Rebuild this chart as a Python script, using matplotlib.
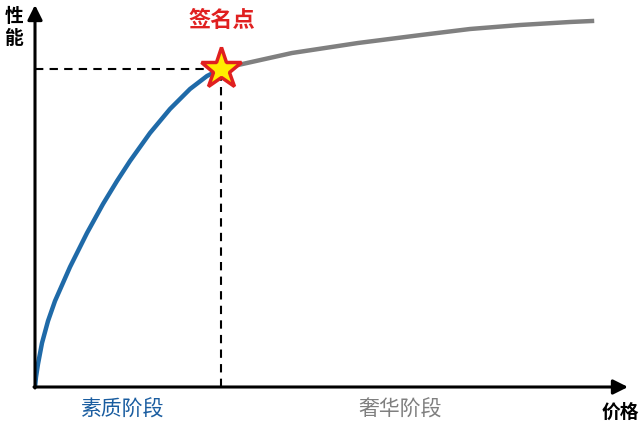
import matplotlib.pyplot as plt

plt.rcParams['font.family'] = ['Noto Sans CJK SC', 'DejaVu Sans']

# curve (arbitrary price / performance units)
basic_x = [0, 0.1, 0.3, 0.7, 1.3, 2.0, 3.5, 5.2, 6.8, 8.2, 9.5,
           11.5, 13.5, 15.5, 17.2, 18.6]
basic_y = [0, 1.0, 2.3, 4.4, 6.6, 8.6, 12.0, 15.4, 18.3, 20.6, 22.6,
           25.4, 27.8, 29.8, 31.1, 31.8]
luxury_x = [18.6, 20.3, 25.7, 32.3, 38.6, 43.5, 48.5, 53.5, 55.7]
luxury_y = [31.8, 32.2, 33.4, 34.4, 35.2, 35.8, 36.2, 36.5, 36.6]
sign_x, sign_y = 18.6, 31.8
x_max, y_max = 59.3, 38.2

fig = plt.figure(figsize=(6.4, 4.25), dpi=100)
ax = fig.add_axes([35/640, 38/425, 593/640, 382/425])
ax.set_xlim(0, x_max)
ax.set_ylim(0, y_max)
ax.axis('off')

# axes with arrows
ax.annotate('', xy=(0, y_max), xytext=(0, -0.1),
            arrowprops=dict(arrowstyle='-|>', lw=2.2, color='black',
                            mutation_scale=22, shrinkA=0, shrinkB=0))
ax.annotate('', xy=(x_max, 0), xytext=(-0.1, 0),
            arrowprops=dict(arrowstyle='-|>', lw=2.2, color='black',
                            mutation_scale=22, shrinkA=0, shrinkB=0))

# guide lines to the sign point
ax.plot([0, sign_x], [sign_y, sign_y], ls='--', color='black', lw=1.5,
        dashes=(4, 3))
ax.plot([sign_x, sign_x], [0, sign_y], ls='--', color='black', lw=1.5,
        dashes=(4, 3))

ax.plot(basic_x, basic_y, color='#1f6aa8', lw=3.2, solid_capstyle='round',
        solid_joinstyle='round')
ax.plot(luxury_x, luxury_y, color='#808080', lw=3.2, solid_joinstyle='round')
ax.plot([sign_x], [sign_y], marker='*', markersize=31, markerfacecolor='#ffee00',
        markeredgecolor='#e02020', markeredgewidth=2.5, clip_on=False, zorder=5)

ax.text(-2.1, 36.0, '性\n能', ha='center', va='center', fontsize=13.5,
        fontweight='bold', linespacing=1.2, clip_on=False)
ax.text(18.7, 36.7, '签名点', ha='center', va='center', fontsize=16,
        fontweight='bold', color='#e02020')
ax.text(8.7, -2.3, '素质阶段', ha='center', va='center', fontsize=15,
        color='#1a5da0')
ax.text(36.5, -2.3, '奢华阶段', ha='center', va='center', fontsize=15,
        color='#7f7f7f')
ax.text(58.5, -2.5, '价格', ha='center', va='center', fontsize=13.5,
        fontweight='bold', clip_on=False)

fig.savefig('out.png', dpi=100)
